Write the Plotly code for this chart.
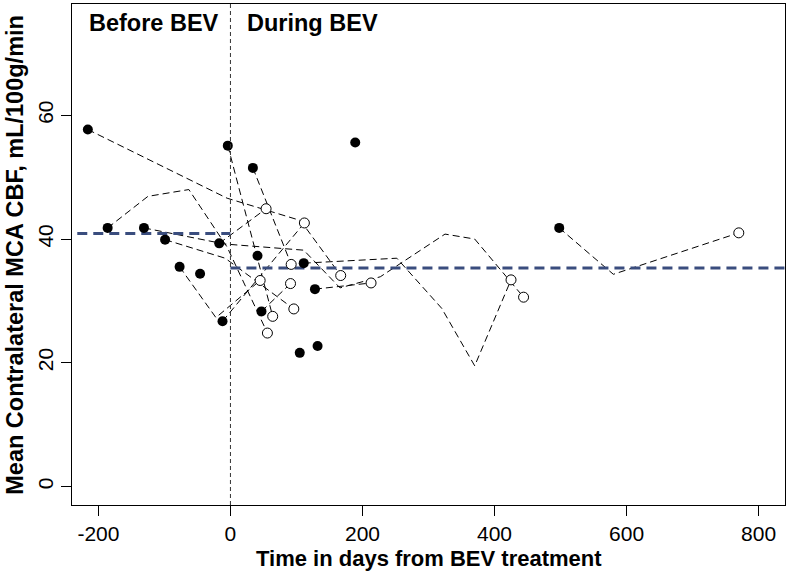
import plotly.graph_objects as go

# days from BEV start / mean contralateral MCA CBF, one list per patient
# first value = first scan (filled), last value = last scan (open)
patient_days = [
    [-216, -5, 106, 167],
    [-4, 64],
    [34, 92],
    [-186, -125, -63, -5, 56],
    [-131, -9, 111, 166, 227, 325, 370, 444],
    [-99, -8, 96],
    [-17, 54],
    [-77, -22, 45],
    [-12, 112],
    [47, 91],
    [128, 213],
    [111, 252, 320, 370, 425],
    [498, 580, 770],
]
patient_cbf = [
    [57.7, 46.6, 43.0, 34.1],
    [55.1, 27.5],
    [51.5, 35.9],
    [41.8, 46.9, 48.0, 38.7, 24.8],
    [41.8, 39.2, 38.2, 32.1, 33.9, 40.8, 40.0, 30.6],
    [39.9, 36.9, 28.7],
    [39.3, 44.9],
    [35.5, 27.3, 33.3],
    [26.7, 42.6],
    [28.3, 32.8],
    [31.9, 32.9],
    [36.1, 36.9, 28.8, 19.5, 33.4],
    [41.8, 34.3, 41.0],
]

# patients with a single scan
single_days = [189, 41, -46, 105, 132]
single_cbf = [55.6, 37.3, 34.4, 21.6, 22.7]

# group means
before_mean = 40.9
during_mean = 35.3

# tick labels (plain hyphen minus like the original)
x_ticks = [-200, 0, 200, 400, 600, 800]
x_ticklabels = ['-200', '0', '200', '400', '600', '800']
y_ticks = [0, 20, 40, 60]

fig = go.Figure()

#patient trajectories
for d, c in zip(patient_days, patient_cbf):
    fig.add_trace(go.Scatter(x=d, y=c, mode='lines',
                             line=dict(color='black', width=1, dash='7px,4px'),
                             hoverinfo='skip'))

#mean lines
fig.add_trace(go.Scatter(x=[-232, 0], y=[before_mean, before_mean], mode='lines',
                         line=dict(color='#3a4d7e', width=3, dash='10px,6px')))
fig.add_trace(go.Scatter(x=[0, 840], y=[during_mean, during_mean], mode='lines',
                         line=dict(color='#3a4d7e', width=3, dash='10px,6px')))

#first scans (filled) and last scans (open)
first_x = [d[0] for d in patient_days] + single_days
first_y = [c[0] for c in patient_cbf] + single_cbf
last_x = [d[-1] for d in patient_days]
last_y = [c[-1] for c in patient_cbf]

fig.add_trace(go.Scatter(x=first_x, y=first_y, mode='markers',
                         marker=dict(color='black', size=10, line=dict(color='black', width=0))))
fig.add_trace(go.Scatter(x=last_x, y=last_y, mode='markers',
                         marker=dict(color='white', size=10, line=dict(color='black', width=1))))

#BEV start
fig.add_shape(type='line', x0=0, x1=0, y0=0, y1=1, xref='x', yref='paper',
              line=dict(color='#333333', width=1, dash='4px,3px'))

fig.add_annotation(x=-217, y=75, text='<b>Before BEV</b>', showarrow=False,
                   xanchor='left', yanchor='middle', font=dict(size=23.5, color='black'))
fig.add_annotation(x=22, y=75, text='<b>During BEV</b>', showarrow=False,
                   xanchor='left', yanchor='middle', font=dict(size=23.5, color='black'))

#axis titles
fig.add_annotation(x=0.5, y=-0.106, xref='paper', yref='paper', showarrow=False,
                   text='<b>Time in days from BEV treatment</b>',
                   xanchor='center', yanchor='middle', font=dict(size=22, color='black'))
fig.add_annotation(x=-0.081, y=0.5, xref='paper', yref='paper', showarrow=False,
                   text='<b>Mean Contralateral MCA CBF, mL/100g/min</b>', textangle=-90,
                   xanchor='center', yanchor='middle', font=dict(size=23.5, color='black'))

fig.update_layout(
    width=791, height=576,
    margin=dict(l=72, r=6, t=4, b=71, autoexpand=False),
    paper_bgcolor='white', plot_bgcolor='white',
    showlegend=False,
    font=dict(family='Liberation Sans, Arial, sans-serif', color='black'),
    xaxis=dict(range=[-240, 840], tickvals=x_ticks, ticktext=x_ticklabels,
               ticks='outside', ticklen=10, tickcolor='black', tickfont=dict(size=21),
               showline=True, linecolor='black', linewidth=1, mirror=True,
               showgrid=False, zeroline=False, automargin=False),
    yaxis=dict(range=[-3, 78], tickvals=y_ticks, tickangle=-90,
               ticks='outside', ticklen=10, tickcolor='black', tickfont=dict(size=21),
               showline=True, linecolor='black', linewidth=1, mirror=True,
               showgrid=False, zeroline=False, automargin=False),
)

# page body has a default 8px margin; drop it so the figure sits at the corner
fig.write_html("out.html", config={'displayModeBar': False},
               post_script="document.body.style.margin='0px';")
